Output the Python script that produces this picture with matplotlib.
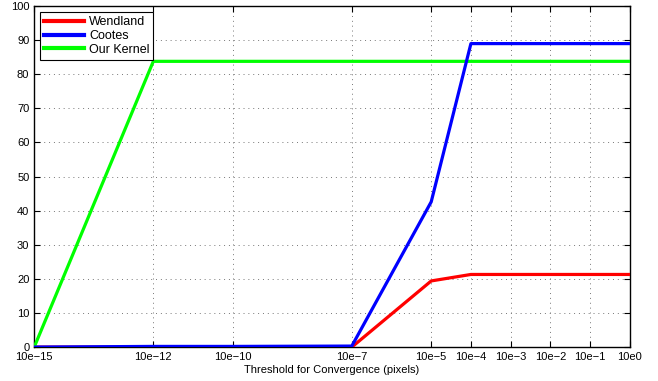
import matplotlib.pyplot as plt

plt.rcParams['font.family'] = ['Liberation Sans', 'DejaVu Sans']

# Threshold exponents (10e<exp>) and matching tick labels
exponents = [-15, -12, -10, -7, -5, -4, -3, -2, -1, 0]
tick_labels = ['10e\u221215', '10e\u221212', '10e\u221210', '10e\u22127', '10e\u22125',
               '10e\u22124', '10e\u22123', '10e\u22122', '10e\u22121', '10e0']

# Percentage converged for each method
wendland = [0, 0, 0, 0, 19.4, 21.3, 21.3, 21.3, 21.3, 21.3]
cootes = [0, 0.2, 0.2, 0.3, 42.6, 89.0, 89.0, 89.0, 89.0, 89.0]
our_kernel = [0, 83.8, 83.8, 83.8, 83.8, 83.8, 83.8, 83.8, 83.8, 83.8]

fig = plt.figure(figsize=(6.58, 3.81), dpi=100)
ax = fig.add_axes([0.052, 0.089, 0.905, 0.895])

ax.plot(exponents, wendland, color='#ff0000', lw=2.3, label='Wendland', zorder=3)
ax.plot(exponents, our_kernel, color='#00ff00', lw=2.3, label='Our Kernel', zorder=3)
ax.plot(exponents, cootes, color='#0000ff', lw=2.3, label='Cootes', zorder=4)

ax.set_xlim(-15, 0)
ax.set_ylim(0, 100)
ax.set_xticks(exponents)
ax.set_xticklabels(tick_labels)
ax.set_yticks(range(0, 101, 10))

ax.grid(True, color='#777777', linestyle=(0, (1, 4)), linewidth=0.7)
ax.tick_params(direction='in', top=True, right=True, labelsize=8, length=4, width=0.8)
for side in ax.spines.values():
    side.set_linewidth(1.0)

ax.set_xlabel('Threshold for Convergence (pixels)', fontsize=8, labelpad=2)

handles, labels = ax.get_legend_handles_labels()
order = [0, 2, 1]
leg = ax.legend([handles[i] for i in order], [labels[i] for i in order],
                loc='upper left', fontsize=9, fancybox=False, framealpha=1,
                edgecolor='black', handlelength=3.2, borderaxespad=0.5,
                labelspacing=0.15, handletextpad=0.4, borderpad=0.3)
leg.get_frame().set_linewidth(0.8)
for line in leg.get_lines():
    line.set_linewidth(3)

plt.savefig('out.png', dpi=100)
